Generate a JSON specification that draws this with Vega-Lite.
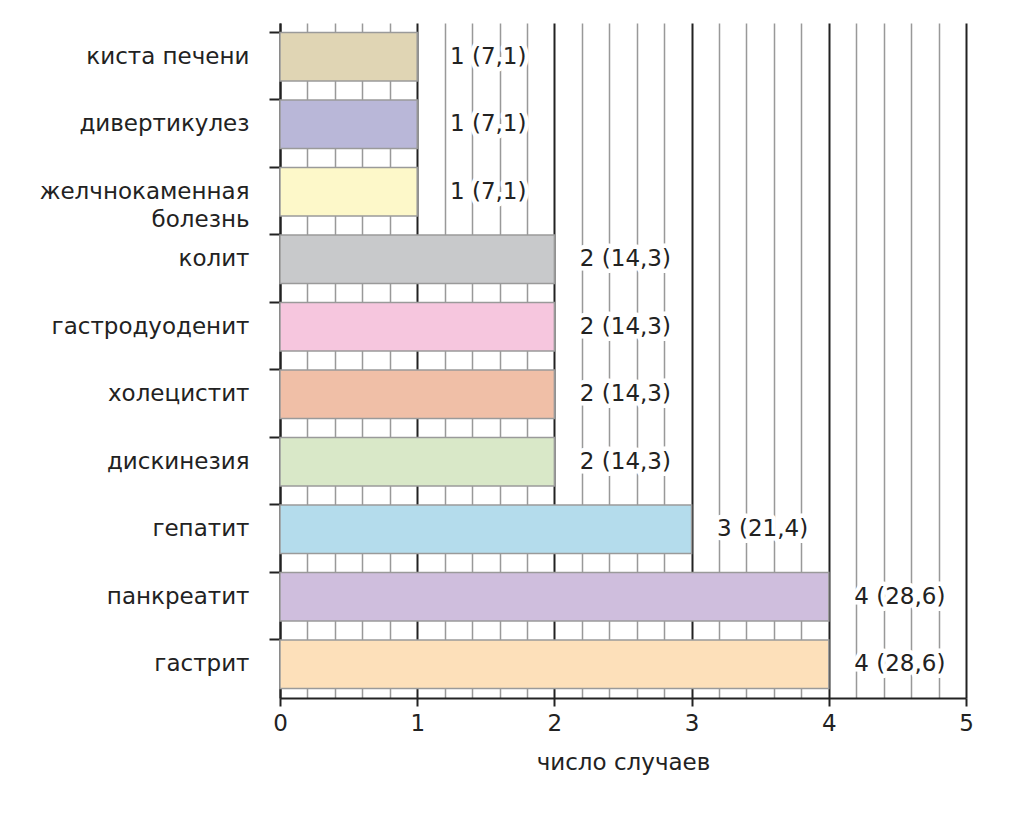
{
  "$schema": "https://vega.github.io/schema/vega-lite/v6.json",
  "autosize": "none",
  "width": 686,
  "height": 675,
  "padding": {"left": 280, "top": 23, "right": 58, "bottom": 126},
  "background": "white",
  "config": {
    "font": "DejaVu Sans",
    "view": {"stroke": null},
    "axis": {"labelFont": "DejaVu Sans", "titleFont": "DejaVu Sans", "labelColor": "#222", "titleColor": "#222", "domainColor": "#222", "tickColor": "#222"}
  },
  "data": {
    "values": [
      {"d": "киста печени", "n": 1, "label": "1 (7,1)", "c": "#e0d5b4"},
      {"d": "дивертикулез", "n": 1, "label": "1 (7,1)", "c": "#b9b7d8"},
      {"d": "желчнокаменная|болезнь", "n": 1, "label": "1 (7,1)", "c": "#fdf8c9"},
      {"d": "колит", "n": 2, "label": "2 (14,3)", "c": "#c8c9cb"},
      {"d": "гастродуоденит", "n": 2, "label": "2 (14,3)", "c": "#f6c6de"},
      {"d": "холецистит", "n": 2, "label": "2 (14,3)", "c": "#f0bfa7"},
      {"d": "дискинезия", "n": 2, "label": "2 (14,3)", "c": "#d9e8c8"},
      {"d": "гепатит", "n": 3, "label": "3 (21,4)", "c": "#b4dcec"},
      {"d": "панкреатит", "n": 4, "label": "4 (28,6)", "c": "#cfbedd"},
      {"d": "гастрит", "n": 4, "label": "4 (28,6)", "c": "#fde0ba"}
    ]
  },
  "encoding": {
    "y": {
      "field": "d", "type": "nominal", "sort": null,
      "scale": {"paddingInner": 0.28, "paddingOuter": 0.14},
      "axis": {
        "title": null, "bandPosition": 0, "tickSize": 11, "tickWidth": 2, "domainWidth": 2,
        "labelFontSize": 23, "labelPadding": 20, "labelLimit": 300,
        "labelExpr": "split(datum.label, '|')", "labelLineHeight": 28
      }
    },
    "x": {
      "field": "n", "type": "quantitative",
      "scale": {"domain": [0, 5], "nice": false, "zero": true},
      "axis": {
        "title": "число случаев", "titleFontSize": 23, "titleFontWeight": "normal", "titlePadding": 16,
        "values": [0, 0.2, 0.4, 0.6, 0.8, 1, 1.2, 1.4, 1.6, 1.8, 2, 2.2, 2.4, 2.6, 2.8, 3, 3.2, 3.4, 3.6, 3.8, 4, 4.2, 4.4, 4.6, 4.8, 5],
        "labelExpr": "abs(datum.value - round(datum.value)) < 0.001 ? format(datum.value, 'd') : ''",
        "labelFontSize": 23, "labelPadding": 6, "labelFlush": false, "labelOverlap": false,
        "tickSize": {"condition": {"test": "abs(datum.value - round(datum.value)) < 0.001", "value": 8}, "value": 0},
        "tickWidth": 2, "domainWidth": 2,
        "grid": true,
        "gridColor": {"condition": {"test": "abs(datum.value - round(datum.value)) < 0.001", "value": "#222"}, "value": "#999"},
        "gridWidth": {"condition": {"test": "abs(datum.value - round(datum.value)) < 0.001", "value": 2}, "value": 1.5}
      }
    }
  },
  "layer": [
    {
      "mark": {"type": "bar", "stroke": "#9a9a9a", "strokeWidth": 1.5},
      "encoding": {"color": {"field": "c", "type": "nominal", "scale": null}}
    },
    {
      "mark": {"type": "text", "align": "center", "baseline": "middle", "dx": 71, "fontSize": 23, "stroke": "white", "strokeWidth": 9, "strokeJoin": "round", "fill": "white"},
      "encoding": {"text": {"field": "label"}}
    },
    {
      "mark": {"type": "text", "align": "center", "baseline": "middle", "dx": 71, "fontSize": 23, "fill": "#222"},
      "encoding": {"text": {"field": "label"}}
    }
  ]
}
